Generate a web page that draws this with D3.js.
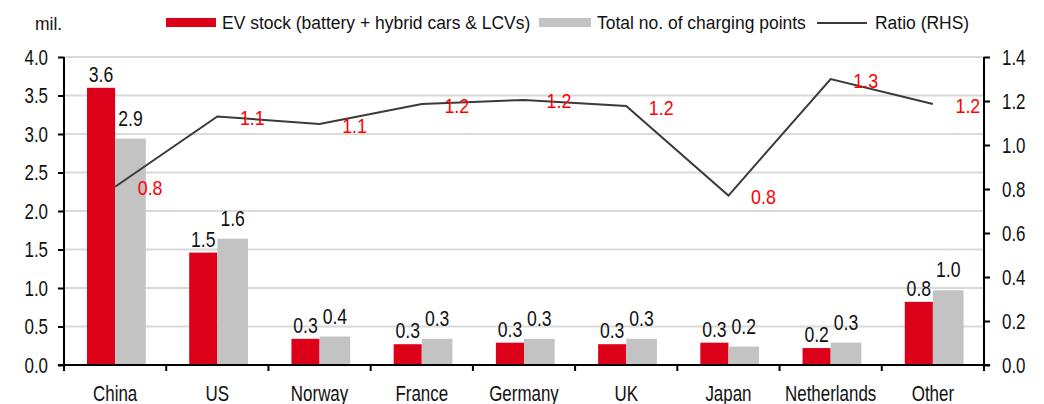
<!DOCTYPE html>
<html><head><meta charset="utf-8">
<script src="https://cdn.jsdelivr.net/npm/d3@7"></script>
<style>
body{margin:0;background:#fff;}
svg{display:block;font-family:"Liberation Sans",Arial,sans-serif;}
</style></head>
<body><svg id="c" width="1044" height="404"></svg>
<script>
const categories = ["China","US","Norway","France","Germany","UK","Japan","Netherlands","Other"];
const evStock = [3.60,1.46,0.34,0.27,0.29,0.27,0.29,0.22,0.82];
const chargingPoints = [2.94,1.64,0.37,0.34,0.34,0.34,0.24,0.29,0.97];
const ratio = [0.81,1.13,1.095,1.186,1.205,1.177,0.77,1.30,1.186];
const leftTicks = [0,0.5,1,1.5,2,2.5,3,3.5,4];
const rightTicks = [0,0.2,0.4,0.6,0.8,1.0,1.2,1.4];
const seriesNames = ["EV stock (battery + hybrid cars & LCVs)","Total no. of charging points","Ratio (RHS)"];
const unitLabel = "mil.";

const RED="#dc0018", GRAY="#c3c3c3", LINE="#3a3a3a", GRID="#d9d9d9", TXT="#111";
const svg=d3.select("#c");
const L=64,R=984,B=365,T=57;
const x=d3.scaleBand().domain(categories).range([L,R]).padding(0);
const yL=d3.scaleLinear().domain([0,4]).range([B,T]);
const yR=d3.scaleLinear().domain([0,1.4]).range([B,T]);
const bw=x.bandwidth();
const redOff=bw*0.225, redW=bw*0.275, grayW=bw*0.30;
const ptX=c=>x(c)+redOff+redW;

function txt(g,xx,yy,s,size,sx,anchor,fill,base){
  return g.append("text").attr("transform",`translate(${xx},${yy}) scale(${sx},1)`)
    .attr("text-anchor",anchor).attr("font-size",size).attr("fill",fill)
    .attr("dominant-baseline",base||"auto").text(s);
}

// gridlines
svg.append("g").selectAll("line").data(leftTicks.filter(d=>d>0)).join("line")
  .attr("x1",L).attr("x2",R).attr("y1",d=>yL(d)).attr("y2",d=>yL(d))
  .attr("stroke",GRID).attr("stroke-width",2);

// bars
const gb=svg.append("g");
gb.selectAll("rect.ev").data(categories).join("rect").attr("class","ev")
  .attr("x",c=>x(c)+redOff).attr("width",redW)
  .attr("y",(c,i)=>yL(evStock[i])).attr("height",(c,i)=>B-yL(evStock[i])).attr("fill",RED);
gb.selectAll("rect.cp").data(categories).join("rect").attr("class","cp")
  .attr("x",c=>x(c)+redOff+redW).attr("width",grayW)
  .attr("y",(c,i)=>yL(chargingPoints[i])).attr("height",(c,i)=>B-yL(chargingPoints[i])).attr("fill",GRAY);

// axes
const NS=22, NSX=0.77;
const axL=d3.axisLeft(yL).tickValues(leftTicks).tickFormat(d3.format(".1f")).tickSize(6).tickPadding(10);
const gL=svg.append("g").attr("transform",`translate(${L},0)`).call(axL);
const axR=d3.axisRight(yR).tickValues(rightTicks).tickFormat(d3.format(".1f")).tickSize(6).tickPadding(12);
const gR=svg.append("g").attr("transform",`translate(${R},0)`).call(axR);
[gL,gR].forEach(g=>{
  g.selectAll(".tick line").attr("stroke","#000").attr("stroke-width",2);
  g.selectAll(".tick text").each(function(){
    const t=d3.select(this);
    t.attr("font-size",NS).attr("fill",TXT).attr("font-family","Liberation Sans, Arial, sans-serif")
     .attr("transform",`scale(${NSX},1)`).attr("x",(+t.attr("x"))/NSX);
  });
  g.select(".domain").remove();
});
const gB=svg.append("g").attr("transform",`translate(0,${B})`);
gB.selectAll("line.bt").data(categories.map(c=>x(c)).concat([R])).join("line").attr("class","bt")
  .attr("x1",d=>d).attr("x2",d=>d).attr("y1",0).attr("y2",6).attr("stroke","#000").attr("stroke-width",2);
svg.append("line").attr("x1",L).attr("x2",L).attr("y1",T).attr("y2",B).attr("stroke","#000").attr("stroke-width",2);
svg.append("line").attr("x1",R).attr("x2",R).attr("y1",T).attr("y2",B).attr("stroke","#000").attr("stroke-width",2);
svg.append("line").attr("x1",L-6).attr("x2",R+6).attr("y1",B).attr("y2",B).attr("stroke","#000").attr("stroke-width",2);

// category labels
const gx=svg.append("g");
categories.forEach(c=>txt(gx,x(c)+bw/2,401,c,NS,NSX,"middle",TXT));

// bar labels
const gl=svg.append("g");
categories.forEach((c,i)=>{
  txt(gl,x(c)+redOff+redW/2,yL(evStock[i])-6,d3.format(".1f")(evStock[i]),NS,0.8,"middle",TXT);
  txt(gl,x(c)+redOff+redW+grayW/2,yL(chargingPoints[i])-13,d3.format(".1f")(chargingPoints[i]),NS,0.8,"middle",TXT);
});

// ratio line
const line=d3.line().x((d,i)=>ptX(categories[i])).y(d=>yR(d));
svg.append("path").datum(ratio).attr("d",line).attr("fill","none").attr("stroke",LINE).attr("stroke-width",2);
const gr=svg.append("g");
categories.forEach((c,i)=>txt(gr,ptX(c)+35,yR(ratio[i])+1,d3.format(".1f")(ratio[i]),21,0.85,"middle","#ff0000","central"));

// unit label
txt(svg,35,30,unitLabel,19,0.92,"start",TXT);

// legend
const lg=svg.append("g");
lg.append("rect").attr("x",166).attr("y",18).attr("width",50).attr("height",9).attr("fill",RED);
txt(lg,222,29,seriesNames[0],19,0.92,"start",TXT);
lg.append("rect").attr("x",539).attr("y",18).attr("width",52).attr("height",9).attr("fill",GRAY);
txt(lg,597,29,seriesNames[1],19,0.92,"start",TXT);
lg.append("line").attr("x1",817).attr("x2",867).attr("y1",23).attr("y2",23).attr("stroke",LINE).attr("stroke-width",2);
txt(lg,875,29,seriesNames[2],19,0.92,"start",TXT);
</script></body></html>
